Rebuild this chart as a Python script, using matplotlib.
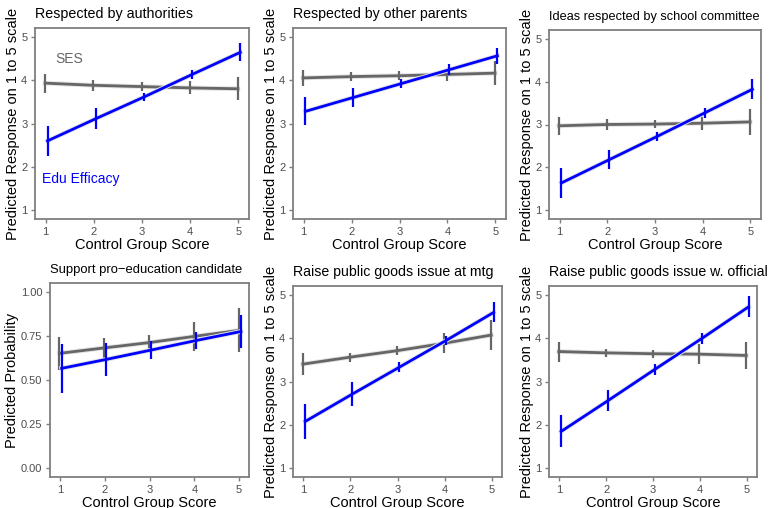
import matplotlib
matplotlib.use("Agg")
import matplotlib.pyplot as plt

plt.rcParams["font.family"] = ["Liberation Sans", "DejaVu Sans"]

scores = [1, 2, 3, 4, 5]

titles = [
    "Respected by authorities",
    "Respected by other parents",
    "Ideas respected by school committee",
    "Support pro\u2212education candidate",
    "Raise public goods issue at mtg",
    "Raise public goods issue w. official",
]
ylabels = [
    "Predicted Response on 1 to 5 scale",
    "Predicted Response on 1 to 5 scale",
    "Predicted Response on 1 to 5 scale",
    "Predicted Probability",
    "Predicted Response on 1 to 5 scale",
    "Predicted Response on 1 to 5 scale",
]

# SES (grey) predicted values and half-widths of the intervals
ses_fit = [
    [3.93, 3.88, 3.85, 3.82, 3.80],
    [4.05, 4.08, 4.10, 4.13, 4.16],
    [2.97, 3.00, 3.01, 3.03, 3.06],
    [0.651, 0.682, 0.712, 0.747, 0.781],
    [3.40, 3.56, 3.71, 3.88, 4.07],
    [3.69, 3.66, 3.64, 3.63, 3.60],
]
ses_err = [
    [0.22, 0.12, 0.10, 0.15, 0.27],
    [0.19, 0.10, 0.10, 0.15, 0.27],
    [0.21, 0.12, 0.10, 0.15, 0.30],
    [0.092, 0.055, 0.043, 0.080, 0.125],
    [0.25, 0.10, 0.10, 0.23, 0.34],
    [0.23, 0.10, 0.09, 0.23, 0.32],
]

# Edu Efficacy (blue)
edu_fit = [
    [2.60, 3.11, 3.61, 4.13, 4.64],
    [3.28, 3.60, 3.92, 4.24, 4.56],
    [1.64, 2.18, 2.72, 3.27, 3.82],
    [0.566, 0.617, 0.670, 0.724, 0.775],
    [2.08, 2.71, 3.33, 3.95, 4.59],
    [1.85, 2.56, 3.28, 3.99, 4.72],
]
edu_err = [
    [0.35, 0.24, 0.10, 0.11, 0.21],
    [0.32, 0.21, 0.10, 0.12, 0.18],
    [0.34, 0.22, 0.10, 0.12, 0.23],
    [0.14, 0.095, 0.05, 0.05, 0.095],
    [0.40, 0.27, 0.12, 0.10, 0.23],
    [0.37, 0.24, 0.12, 0.12, 0.24],
]

W, H = 771, 508
# axes boxes in pixels: left, top, right, bottom
boxes = [
    (35, 28, 249, 219),
    (293, 28, 506, 219),
    (549, 30, 761, 219),
    (50, 283, 249, 477),
    (293, 286, 502, 477),
    (549, 286, 757, 477),
]
title_size = [10.3, 10.2, 9.2, 9.4, 10.2, 10.2]

grey = "#666666"
blue = "#0000FF"
frame = "#7F7F7F"
ticktxt = "#4D4D4D"

fig = plt.figure(figsize=(W / 100, H / 100), dpi=100)
fig.patch.set_facecolor("white")

for i in range(6):
    l, t, r, b = boxes[i]
    ax = fig.add_axes([l / W, 1 - b / H, (r - l) / W, (b - t) / H])
    xs_g = [x - 0.01 for x in scores]
    xs_b = [x + 0.04 for x in scores]

    ax.plot(xs_g, ses_fit[i], color="#E3E3E3", lw=3.4, zorder=1)
    ax.plot(xs_g, ses_fit[i], color=grey, lw=2.0, zorder=2)
    ax.errorbar(xs_g, ses_fit[i], yerr=ses_err[i], fmt="none", ecolor=grey,
                elinewidth=1.6, capsize=0, zorder=2)
    ax.plot(xs_b, edu_fit[i], color="#E3E3E3", lw=3.4, zorder=3)
    ax.plot(xs_b, edu_fit[i], color=blue, lw=2.0, zorder=4)
    ax.errorbar(xs_b, edu_fit[i], yerr=edu_err[i], fmt="none", ecolor=blue,
                elinewidth=1.6, capsize=0, zorder=4)

    ax.set_xlim(0.78, 5.22)
    ax.set_xticks(scores)
    if i == 3:
        ax.set_ylim(-0.05, 1.05)
        ax.set_yticks([0, 0.25, 0.5, 0.75, 1.0])
        ax.set_yticklabels(["0.00", "0.25", "0.50", "0.75", "1.00"])
    else:
        ax.set_ylim(0.8, 5.2)
        ax.set_yticks([1, 2, 3, 4, 5])

    for s in ax.spines.values():
        s.set_color(frame)
        s.set_linewidth(1.3)
    ax.tick_params(colors=frame, labelcolor=ticktxt, labelsize=8, length=3, width=1, pad=2.5)
    ax.set_xlabel("Control Group Score", fontsize=10.5, labelpad=1)
    ax.set_ylabel(ylabels[i], fontsize=10.5, labelpad=1)
    ax.set_title(titles[i], fontsize=title_size[i], loc="left", pad=7)

    if i == 0:
        ax.text(1.5, 4.49, "SES", color=grey, fontsize=10, ha="center", va="center")
        ax.text(1.72, 1.72, "Edu Efficacy", color=blue, fontsize=10, ha="center", va="center")

fig.savefig("out.png", dpi=100, facecolor="white")
